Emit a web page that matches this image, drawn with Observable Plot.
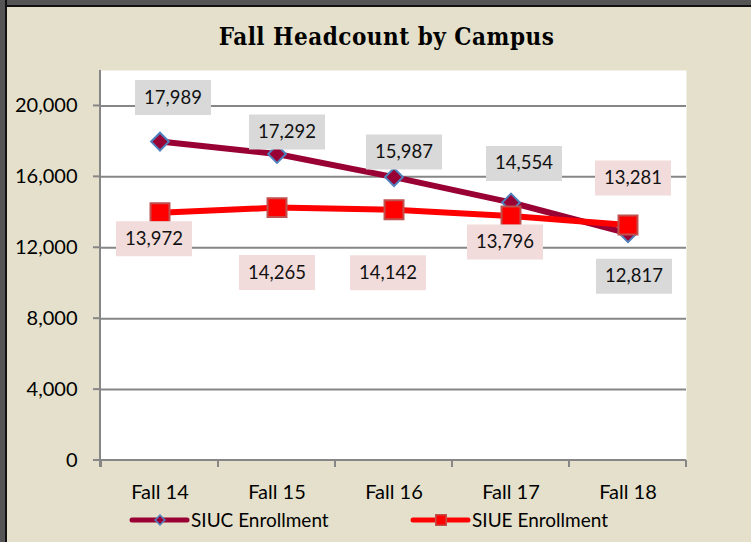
<!DOCTYPE html>
<html><head><meta charset="utf-8">
<script src="https://cdn.jsdelivr.net/npm/d3@7"></script>
<script src="https://cdn.jsdelivr.net/npm/@observablehq/plot@0.6"></script>
<style>
html,body{margin:0;padding:0;}
body{background:#E4E0CB;width:751px;height:542px;overflow:hidden;position:relative;font-family:Lato,sans-serif;}
#title{height:56px;box-sizing:border-box;padding-top:25px;padding-left:22px;text-align:center;
  font-family:"DejaVu Serif Condensed","DejaVu Serif",serif;font-stretch:condensed;font-weight:bold;font-size:24px;letter-spacing:0.5px;line-height:23px;color:#000;}
#chart svg{display:block;}
#legend svg{display:block;}
#bt{position:absolute;left:0;top:0;width:751px;height:5px;background:#555;border-bottom:2px solid #111;z-index:5;}
#bl{position:absolute;left:0;top:0;width:5px;height:542px;background:#555;border-right:2px solid #111;z-index:5;}
</style>
</head><body>
<div id="title">Fall Headcount by Campus</div>
<div id="chart"></div>
<div id="legend"></div>
<div id="bt"></div><div id="bl"></div>
<script>
const categories = ["Fall 14", "Fall 15", "Fall 16", "Fall 17", "Fall 18"];
const siucValues = [17989, 17292, 15987, 14554, 12817];
const siueValues = [13972, 14265, 14142, 13796, 13281];
const yTicks = [0, 4000, 8000, 12000, 16000, 20000];
const seriesNames = ["SIUC Enrollment", "SIUE Enrollment"];

// label box offsets in pixels (layout only)
const siucLabelOffsets = [[13, -44], [10, -22], [10, -25], [13, -39], [6, 43]];
const siueLabelOffsets = [[-6, 26], [0, 65], [-6, 63], [-6, 26], [5, -47]];

const C_SIUC = "#990033", C_SIUC_EDGE = "#4F81BD";
const C_SIUE = "#FF0000", C_SIUE_EDGE = "#C0504D";
const GRID = "#868686";

const siucRows = categories.map((c, i) => ({cat: c, value: siucValues[i]}));
const siueRows = categories.map((c, i) => ({cat: c, value: siueValues[i]}));
const fmt = d3.format(",");

const boxSymbol = {draw(ctx) { ctx.rect(-38, -17.5, 76, 35); }};

function labelMarks(rows, offsets, boxColor) {
  return rows.flatMap((d, i) => [
    Plot.dot([d], {x: "cat", y: "value", symbol: boxSymbol, r: 1, fill: boxColor, stroke: "none", dx: offsets[i][0], dy: offsets[i][1]}),
    Plot.text([d], {x: "cat", y: "value", text: r => fmt(r.value), dx: offsets[i][0], dy: offsets[i][1], fontSize: 18.5, fill: "#111"})
  ]);
}

function axisLines(index, scales, values, dims) {
  const x = scales.x, y = scales.y;
  const left = dims.marginLeft, right = dims.width - dims.marginRight, top = dims.marginTop;
  const y0 = y(0);
  const g = d3.create("svg:g").attr("stroke", GRID).attr("stroke-width", 2).attr("fill", "none");
  g.append("line").attr("x1", left).attr("x2", left).attr("y1", top).attr("y2", y0 + 7);
  g.append("line").attr("x1", left - 7).attr("x2", right).attr("y1", y0).attr("y2", y0);
  for (const t of yTicks) g.append("line").attr("x1", left - 7).attr("x2", left).attr("y1", y(t)).attr("y2", y(t));
  const bw = typeof x.bandwidth === "function" ? x.bandwidth() : (right - left) / categories.length;
  const bounds = categories.map(c => x(c)).concat([x(categories[categories.length - 1]) + bw]);
  for (const b of bounds) g.append("line").attr("x1", b).attr("x2", b).attr("y1", y0).attr("y2", y0 + 7);
  return g.node();
}

const chart = Plot.plot({
  width: 751, height: 450,
  marginLeft: 100, marginRight: 65, marginTop: 14, marginBottom: 46,
  style: {fontFamily: "Lato, sans-serif", fontSize: "20px", color: "#000", background: "transparent", overflow: "visible"},
  x: {type: "band", domain: categories, padding: 0, tickSize: 0, tickPadding: 24, label: null},
  y: {domain: [0, 22000], ticks: yTicks, tickFormat: fmt, tickSize: 0, tickPadding: 23, label: null},
  marks: [
    Plot.frame({fill: "white", stroke: "none"}),
    Plot.ruleY(yTicks.filter(t => t > 0), {stroke: GRID, strokeWidth: 2}),
    axisLines,
    Plot.line(siucRows, {x: "cat", y: "value", stroke: C_SIUC, strokeWidth: 6}),
    Plot.dot(siucRows, {x: "cat", y: "value", symbol: "diamond2", r: 8, fill: C_SIUC, stroke: C_SIUC_EDGE, strokeWidth: 2}),
    Plot.line(siueRows, {x: "cat", y: "value", stroke: C_SIUE, strokeWidth: 6}),
    Plot.dot(siueRows, {x: "cat", y: "value", symbol: "square", r: 10.7, fill: C_SIUE, stroke: C_SIUE_EDGE, strokeWidth: 2}),
    ...labelMarks(siucRows, siucLabelOffsets, "#D9D9D9"),
    ...labelMarks(siueRows, siueLabelOffsets, "#F2DCDB")
  ]
});
document.getElementById("chart").appendChild(chart);

// legend
const lg = d3.select("#legend").append("svg").attr("width", 751).attr("height", 36);
const items = [
  {name: seriesNames[0], x: 132, color: C_SIUC, edge: C_SIUC_EDGE, sym: d3.symbolDiamond2, size: 60},
  {name: seriesNames[1], x: 413, color: C_SIUE, edge: C_SIUE_EDGE, sym: d3.symbolSquare, size: 110}
];
for (const it of items) {
  const g = lg.append("g").attr("transform", `translate(${it.x},14)`);
  g.append("line").attr("x1", 0).attr("x2", 55).attr("stroke", it.color).attr("stroke-width", 5).attr("stroke-linecap", "round");
  g.append("path").attr("d", d3.symbol(it.sym, it.size)()).attr("transform", "translate(28,0)")
    .attr("fill", it.color).attr("stroke", it.edge).attr("stroke-width", 1.5);
  g.append("text").attr("x", 59).attr("y", 7).attr("font-family", "Lato, sans-serif").attr("font-size", 19).attr("fill", "#000").text(it.name);
}
</script>
</body></html>
